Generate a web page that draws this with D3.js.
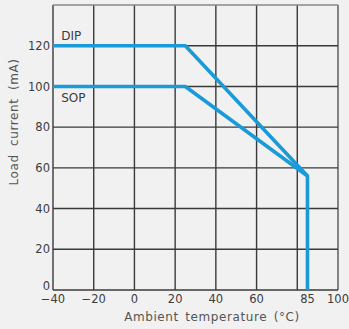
<!DOCTYPE html>
<html>
<head>
<meta charset="utf-8">
<script src="https://cdn.jsdelivr.net/npm/d3@7"></script>
<style>
  html, body { margin: 0; padding: 0; background: #f1f1f1; }
  svg { display: block; }
  text { font-family: "DejaVu Sans", sans-serif; fill: #3c3c3c; }
</style>
</head>
<body>
<svg id="chart" width="349" height="329"></svg>
<script>
// Derating curves: load current vs ambient temperature
const dipTemps = [-40, 25, 85, 85];
const dipCurrent = [120, 120, 56, 0];
const sopTemps = [-40, 25, 85];
const sopCurrent = [100, 100, 56];

const xGrid = [-40, -20, 0, 20, 40, 60, 80, 100];
const xTickLabels = [-40, -20, 0, 20, 40, 60, 85, 100];
const yGrid = [0, 20, 40, 60, 80, 100, 120, 140];
const yTickLabels = [0, 20, 40, 60, 80, 100, 120];

const seriesNames = ["DIP", "SOP"];
const xTitle = "Ambient temperature (°C)";
const yTitle = "Load current (mA)";

const svg = d3.select("#chart");
const m = { left: 53, right: 11, top: 5, bottom: 39 };
const W = 349, H = 329;

const x = d3.scaleLinear().domain([-40, 100]).range([m.left, W - m.right]);
const y = d3.scaleLinear().domain([0, 140]).range([H - m.bottom, m.top]);

const fmt = v => (v < 0 ? "\u2212" + Math.abs(v) : String(v));

// grid
const grid = svg.append("g").attr("stroke", "#3a3a3a").attr("stroke-width", 1.4);
grid.selectAll("line.v").data(xGrid).join("line")
  .attr("x1", d => x(d)).attr("x2", d => x(d))
  .attr("y1", y(0)).attr("y2", y(140))
  .attr("stroke", d => d === 100 ? "#555" : "#3a3a3a");
grid.selectAll("line.h").data(yGrid).join("line")
  .attr("y1", d => y(d)).attr("y2", d => y(d))
  .attr("x1", x(-40)).attr("x2", x(100))
  .attr("stroke", d => d === 140 ? "#888" : "#3a3a3a");

// axes labels
svg.append("g").selectAll("text").data(yTickLabels).join("text")
  .attr("x", m.left - 3)
  .attr("y", d => y(d) + (d === 0 ? -4 : 0))
  .attr("dy", "0.36em")
  .attr("text-anchor", "end")
  .attr("font-size", 11.5)
  .text(fmt);

svg.append("g").selectAll("text").data(xTickLabels).join("text")
  .attr("x", d => x(d))
  .attr("y", y(0) + 9)
  .attr("dy", "0.36em")
  .attr("text-anchor", "middle")
  .attr("font-size", 11.5)
  .text(fmt);

svg.append("text")
  .attr("x", 212).attr("y", 321)
  .attr("text-anchor", "middle")
  .attr("font-size", 12)
  .attr("letter-spacing", 0.6)
  .attr("word-spacing", 2)
  .style("fill", "#555")
  .text(xTitle);

svg.append("text")
  .attr("transform", "translate(18,122) rotate(-90)")
  .attr("text-anchor", "middle")
  .attr("font-size", 12)
  .attr("letter-spacing", 0.6)
  .attr("word-spacing", 4)
  .style("fill", "#555")
  .text(yTitle);

// curves
const line = d3.line().x(d => x(d[0])).y(d => y(d[1]));
const curves = [
  d3.zip(dipTemps, dipCurrent),
  d3.zip(sopTemps, sopCurrent)
];
svg.append("g").selectAll("path").data(curves).join("path")
  .attr("d", line)
  .attr("fill", "none")
  .attr("stroke", "#1b9ad8")
  .attr("stroke-width", 3.6)
  .attr("stroke-linejoin", "round");

// series labels
svg.append("text").attr("x", x(-36)).attr("y", y(120) - 6)
  .attr("font-size", 12).text(seriesNames[0]);
svg.append("text").attr("x", x(-36)).attr("y", y(100) + 16)
  .attr("font-size", 12).text(seriesNames[1]);
</script>
</body>
</html>
